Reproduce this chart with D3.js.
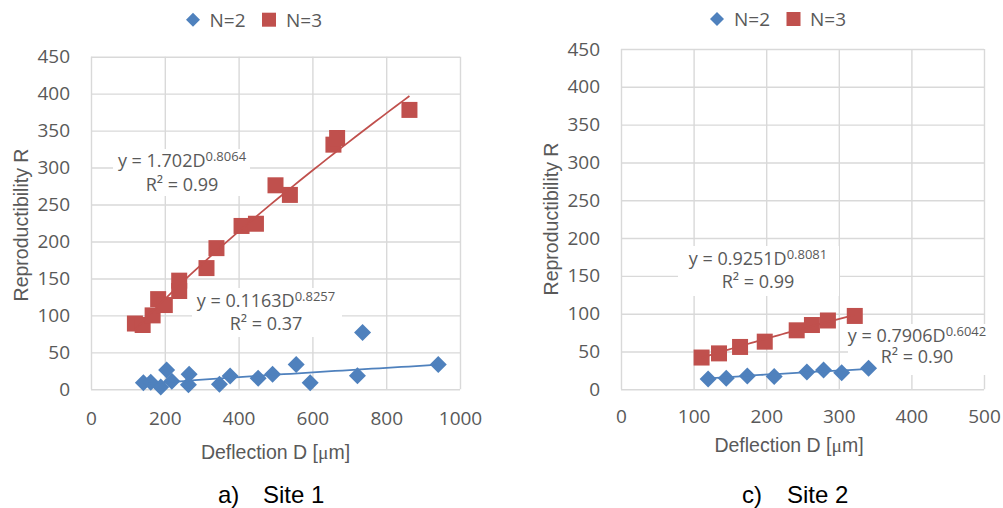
<!DOCTYPE html>
<html>
<head>
<meta charset="utf-8">
<script src="https://cdn.jsdelivr.net/npm/d3@7"></script>
<style>
  html, body { margin: 0; padding: 0; background: #fff; }
  svg { display: block; }
  .tick text { font-family: "Open Sans", sans-serif; font-size: 19px; fill: #595959; }
</style>
</head>
<body>
<svg id="chart" width="1003" height="508"></svg>
<script>
// Site 1 measurements: deflection D [µm] and reproducibility R
const site1N2D = [142, 162, 189, 205, 219, 266, 264, 348, 377, 453, 492, 556, 594, 722, 736, 941];
const site1N2R = [9, 9.5, 3, 26, 11, 20.5, 6, 7, 18, 15, 20.5, 33.5, 9, 18.5, 77, 33.5];
const site1N3D = [119, 140, 167, 182, 200, 239, 239, 313, 340, 408, 447, 500, 539, 657, 667, 863];
const site1N3R = [89, 87, 100, 122, 114, 147, 133, 164, 191, 221, 224, 276, 263, 331, 340, 378];

// Site 2 measurements
const site2N2D = [120, 145, 174, 211, 256, 279, 304, 341];
const site2N2R = [13.5, 14.5, 17.5, 17, 23, 25.5, 22, 28];
const site2N3D = [111, 135, 164, 198, 242, 263, 285, 322];
const site2N3R = [42, 47.5, 56, 63, 78, 85, 91, 97];

// Power-law trend lines R = a * D^b, with their R² values
const site1N2Fit = [0.1163, 0.8257, "0.8257", "0.1163", "0.37"];
const site1N3Fit = [1.702, 0.8064, "0.8064", "1.702", "0.99"];
const site2N2Fit = [0.7906, 0.6042, "0.6042", "0.7906", "0.90"];
const site2N3Fit = [0.9251, 0.8081, "0.8081", "0.9251", "0.99"];

// Axis ticks
const yTicks = [0, 50, 100, 150, 200, 250, 300, 350, 400, 450];
const xTicksSite1 = [0, 200, 400, 600, 800, 1000];
const xTicksSite2 = [0, 100, 200, 300, 400, 500];

const seriesNames = ["N=2", "N=3"];
const BLUE = "#4F81BD", RED = "#C0504D", GRID = "#D9D9D9", TEXT = "#595959";

const svg = d3.select("#chart");

function diamondPath(r) { return `M0,${-r}L${r},0L0,${r}L${-r},0Z`; }

function drawPanel(cfg) {
  const x = d3.scaleLinear().domain(cfg.xDomain).range(cfg.xRange);
  const y = d3.scaleLinear().domain([0, 450]).range(cfg.yRange);
  const w = cfg.xRange[1] - cfg.xRange[0];
  const h = cfg.yRange[0] - cfg.yRange[1];
  const g = svg.append("g");

  // gridlines + tick labels
  const ya = g.append("g").attr("transform", `translate(${cfg.xRange[0]},0)`)
    .call(d3.axisLeft(y).tickValues(yTicks).tickSize(-w).tickPadding(21).tickFormat(d3.format("d")));
  const xa = g.append("g").attr("transform", `translate(0,${cfg.yRange[0]})`)
    .call(d3.axisBottom(x).tickValues(cfg.xTicks).tickSize(-h).tickPadding(21).tickFormat(d3.format("d")));
  [ya, xa].forEach(a => {
    a.select(".domain").remove();
    a.selectAll(".tick line").attr("stroke", GRID).attr("stroke-width", 1.4);
  });
  xa.selectAll(".tick text").attr("dy", 0);
  xa.selectAll(".tick text").attr("y", cfg.xTickBaseline - cfg.yRange[0]);

  // white backgrounds of the trend-line labels
  cfg.labels.forEach(l => {
    g.append("rect").attr("x", l.box[0]).attr("y", l.box[1])
      .attr("width", l.box[2] - l.box[0]).attr("height", l.box[3] - l.box[1]).attr("fill", "#fff");
  });

  // trend lines sampled from the fitted power law over each series' range
  const line = d3.line().x(d => x(d[0])).y(d => y(d[1]));
  cfg.series.forEach(s => {
    const [a, b] = s.fit;
    const lo = d3.min(s.D), hi = d3.max(s.D);
    s.pts = d3.range(0, 41).map(i => {
      const d = lo + (hi - lo) * i / 40;
      return [d, a * Math.pow(d, b)];
    });
  });

  // markers
  cfg.series.forEach(s => {
    const data = s.D.map((d, i) => [d, s.R[i]]);
    if (s.shape === "diamond") {
      g.append("g").selectAll("path").data(data).join("path")
        .attr("d", diamondPath(8.5))
        .attr("transform", d => `translate(${x(d[0])},${y(d[1])})`)
        .attr("fill", s.color);
    } else {
      g.append("g").selectAll("rect").data(data).join("rect")
        .attr("x", d => x(d[0]) - 8).attr("y", d => y(d[1]) - 8)
        .attr("width", 16).attr("height", 16)
        .attr("fill", s.color);
    }
  });
  cfg.series.forEach(s => {
    g.append("path").datum(s.pts).attr("d", line)
      .attr("fill", "none").attr("stroke", s.color).attr("stroke-width", 1.75);
  });

  // trend-line equations
  cfg.labels.forEach(l => {
    const f = l.fit;
    const t1 = g.append("text").attr("x", l.cx).attr("y", l.y1).attr("text-anchor", "middle")
      .attr("font-family", "Open Sans, sans-serif").attr("font-size", 18).attr("fill", TEXT);
    t1.append("tspan").text(`y = ${f[3]}D`);
    t1.append("tspan").attr("font-size", 13).attr("dy", -6).text(f[2]);
    g.append("text").attr("x", l.cx).attr("y", l.y2).attr("text-anchor", "middle")
      .attr("font-family", "Open Sans, sans-serif").attr("font-size", 18).attr("fill", TEXT)
      .text(`R² = ${f[4]}`);
  });

  // legend
  const lg = g.append("g").attr("font-family", "Open Sans, sans-serif").attr("font-size", 19).attr("fill", TEXT);
  lg.append("path").attr("d", diamondPath(7)).attr("transform", `translate(${cfg.legend[0]},${cfg.legend[4] - 7})`).attr("fill", BLUE);
  lg.append("text").attr("x", cfg.legend[1]).attr("y", cfg.legend[4]).text(seriesNames[0]);
  lg.append("rect").attr("x", cfg.legend[2] - 7).attr("y", cfg.legend[4] - 14).attr("width", 14).attr("height", 14).attr("fill", RED);
  lg.append("text").attr("x", cfg.legend[3]).attr("y", cfg.legend[4]).text(seriesNames[1]);

  // axis titles
  const xt = g.append("text").attr("x", cfg.xTitle[0]).attr("y", cfg.xTitle[1]).attr("text-anchor", "middle")
    .attr("font-family", "Liberation Sans, Arial, sans-serif").attr("font-size", 19.5).attr("fill", TEXT);
  xt.append("tspan").text("Deflection D [");
  xt.append("tspan").attr("font-family", "Liberation Serif, serif").text("μ");
  xt.append("tspan").text("m]");
  g.append("text").attr("transform", `translate(${cfg.yTitle[0]},${cfg.yTitle[1]}) rotate(-90)`)
    .attr("text-anchor", "middle").attr("font-family", "Liberation Sans, Arial, sans-serif")
    .attr("font-size", 19.5).attr("fill", TEXT).text("Reproductibility R");

  // panel caption
  const cap = g.append("text").attr("y", 503).attr("font-family", "Liberation Sans, Arial, sans-serif")
    .attr("font-size", 24).attr("fill", "#000");
  cap.append("tspan").attr("x", cfg.caption[0]).text(cfg.caption[2]);
  cap.append("tspan").attr("x", cfg.caption[1]).text(cfg.caption[3]);
}

drawPanel({
  xDomain: [0, 1000], xRange: [91, 460], yRange: [389.3, 56.7], xTicks: xTicksSite1, xTickBaseline: 425,
  series: [
    { D: site1N2D, R: site1N2R, fit: site1N2Fit, color: BLUE, shape: "diamond" },
    { D: site1N3D, R: site1N3R, fit: site1N3Fit, color: RED, shape: "square" }
  ],
  labels: [
    { fit: site1N3Fit, cx: 182, y1: 167.3, y2: 190.7, box: [113, 149, 250, 196] },
    { fit: site1N2Fit, cx: 266, y1: 306.7, y2: 330, box: [192, 288, 342, 337] }
  ],
  legend: [193, 209.5, 269, 286, 26.7],
  xTitle: [275.5, 459], yTitle: [28, 225],
  caption: [218, 263, "a)", "Site 1"]
});

drawPanel({
  xDomain: [0, 500], xRange: [621, 984], yRange: [389.3, 49], xTicks: xTicksSite2, xTickBaseline: 423,
  series: [
    { D: site2N2D, R: site2N2R, fit: site2N2Fit, color: BLUE, shape: "diamond" },
    { D: site2N3D, R: site2N3R, fit: site2N3Fit, color: RED, shape: "square" }
  ],
  labels: [
    { fit: site2N3Fit, cx: 758, y1: 265, y2: 288, box: [678, 246, 839, 296] },
    { fit: site2N2Fit, cx: 917, y1: 341.7, y2: 363.3, box: [848, 324, 987, 375] }
  ],
  legend: [717, 734, 793.5, 810, 26],
  xTitle: [789, 452], yTitle: [558, 219],
  caption: [742, 787, "c)", "Site 2"]
});
</script>
</body>
</html>
